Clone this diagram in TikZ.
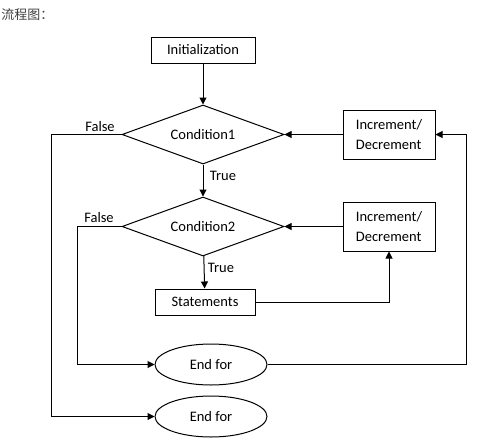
\documentclass[tikz,border=0pt]{standalone}
\usepackage{fontspec}
\setmainfont{Carlito}
\newfontfamily\cjk{Noto Sans CJK SC}
\usetikzlibrary{shapes.geometric,arrows.meta,positioning}

\tikzset{
    every node/.style={font=\fontsize{14.5}{19.5}\selectfont},
    box/.style={draw, rectangle, inner sep=0pt},
    cond/.style={draw, diamond, shape aspect=2.75, inner sep=0pt, minimum width=162pt, minimum height=59pt},
    stop/.style={draw, ellipse, inner sep=0pt, minimum width=112pt, minimum height=41pt},
    flow/.style={-{Triangle[length=7pt,width=7pt]}},
    tag/.style={inner sep=0pt}
}

\begin{document}
\begin{tikzpicture}[x=1pt, y=-1pt, line width=1pt]
        % Frame of the picture
        \useasboundingbox (0,0) rectangle (484,447);
        \node[tag, anchor=west, text=black!75] (title) at (1,15) {\cjk\fontsize{13}{15}\selectfont 流程图：};

        % Main column
        \node[box, minimum width=104pt, minimum height=26pt] (init) at (203,50) {Initialization};
        \node[cond] (cond1) at (203,134.5) {Condition1};
        \node[cond] (cond2) at (203,226.5) {Condition2};
        \node[box, minimum width=100pt, minimum height=26pt] (stmt) at (205,302) {Statements};
        \node[stop] (end1) at (211,364.5) {End for};
        \node[stop] (end2) at (211,416.5) {End for};

        % Update boxes on the right
        \node[box, align=left, minimum width=92pt, minimum height=49pt] (incr1) at (389,134.5) {Increment/\\Decrement};
        \node[box, align=left, minimum width=92pt, minimum height=49pt] (incr2) at (389,226.5) {Increment/\\Decrement};

        % Corner points of the loop lines
        \coordinate (c1) at (51,134.5);
        \coordinate (c2) at (77,226.5);
        \coordinate (c3) at (466,364.5);

        % Labels
        \node[tag] (f1) at (100,127) {False};
        \node[tag] (f2) at (99,218) {False};
        \node[tag] (t1) at (223,176) {True};
        \node[tag] (t2) at (221,268) {True};

        \begin{scope}[flow]
            \draw (init) -- (cond1);
            \draw (cond1) -- (cond2);
            \draw (cond2) -- (stmt);
            \draw (incr1) -- (cond1);
            \draw (incr2) -- (cond2);
            \draw (stmt) -| (incr2);
            \draw (cond1.west) -- (c1) |- (end2.west);
            \draw (cond2.west) -- (c2) |- (end1.west);
            \draw (end1.east) -- (c3) |- (incr1.east);
        \end{scope}
\end{tikzpicture}
\end{document}
